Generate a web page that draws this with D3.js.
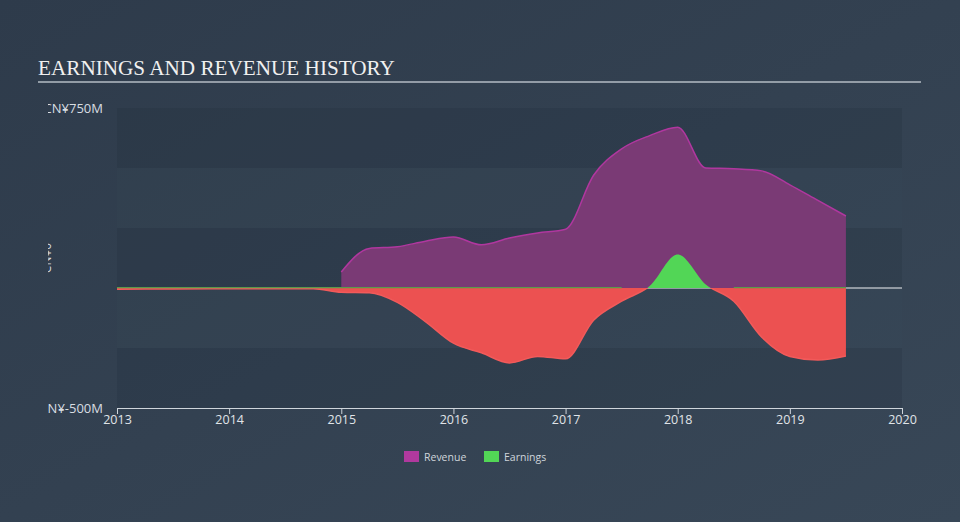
<!DOCTYPE html>
<html>
<head>
<meta charset="utf-8">
<script src="https://cdn.jsdelivr.net/npm/d3@7"></script>
<style>
  html, body { margin: 0; padding: 0; background: #323f4f; }
  svg { display: block; }
</style>
</head>
<body>
<svg id="chart"></svg>
<script>
// values (CN¥ millions)
const revenueDates = [2015.0, 2015.25, 2015.5, 2015.75, 2016.0, 2016.25, 2016.5, 2016.75, 2017.0,
  2017.25, 2017.5, 2017.75, 2018.0, 2018.25, 2018.5, 2018.75, 2019.0, 2019.25, 2019.5];
const revenueValues = [67, 165, 172, 195, 212, 180, 208, 229, 245,
  470, 580, 635, 670, 500, 497, 488, 430, 365, 300];

const earningsDates = [2013.0, 2013.5, 2014.0, 2014.5, 2014.75, 2015.0, 2015.25, 2015.5, 2015.75,
  2016.0, 2016.25, 2016.5, 2016.75, 2017.0, 2017.25, 2017.5, 2017.75, 2018.0, 2018.25,
  2018.5, 2018.75, 2019.0, 2019.25, 2019.5];
const earningsValues = [-5, -4, -3, -3, -3, -18, -20, -60, -140,
  -230, -270, -312, -285, -295, -134, -55, 8, 140, 15,
  -55, -205, -285, -300, -283];

const xTicks = [2013, 2014, 2015, 2016, 2017, 2018, 2019, 2020];
const yTicks = [750, 500, 250, 0, -250, -500];
const yLabels = {750: "CN¥750M", "-500": "CN¥-500M"};

const width = 960, height = 522;
const margin = {top: 108, right: 58, bottom: 114, left: 117};

const svg = d3.select("#chart").attr("width", width).attr("height", height);
const defs = svg.append("defs");

const bg = defs.append("linearGradient").attr("id", "bg")
  .attr("x1", "0").attr("y1", "0").attr("x2", "1").attr("y2", "1");
bg.append("stop").attr("offset", "0%").attr("stop-color", "#2e3b4b");
bg.append("stop").attr("offset", "100%").attr("stop-color", "#384757");
svg.append("rect").attr("width", width).attr("height", height).attr("fill", "url(#bg)");

const x = d3.scaleLinear().domain([2013, 2020]).range([margin.left, width - margin.right]);
const y = d3.scaleLinear().domain([-500, 750]).range([height - margin.bottom, margin.top]);

// title
svg.append("text")
  .attr("x", 38).attr("y", 75)
  .attr("font-family", "'Liberation Serif', 'DejaVu Serif', serif")
  .attr("font-size", 21.2)
  .attr("fill", "#f0f0f0")
  .text("EARNINGS AND REVENUE HISTORY");
svg.append("line")
  .attr("x1", 38).attr("x2", 921).attr("y1", 82).attr("y2", 82)
  .attr("stroke", "#b5bcc4").attr("stroke-width", 1.5);

// alternating bands
const bandPairs = d3.pairs(yTicks);
svg.append("g").selectAll("rect")
  .data(bandPairs)
  .join("rect")
  .attr("x", x(2013))
  .attr("width", x(2020) - x(2013))
  .attr("y", d => y(d[0]))
  .attr("height", d => y(d[1]) - y(d[0]))
  .attr("fill", (d, i) => i % 2 === 0 ? "rgba(25,35,48,0.16)" : "rgba(70,85,100,0.08)");

// y labels, clipped at the left like the reference
defs.append("clipPath").attr("id", "ylab")
  .append("rect").attr("x", 48).attr("y", 0).attr("width", 80).attr("height", height);
const ylab = svg.append("g").attr("clip-path", "url(#ylab)");
ylab.selectAll("text.ytick")
  .data(yTicks.filter(v => yLabels[v]))
  .join("text")
  .attr("class", "ytick")
  .attr("x", 103)
  .attr("y", d => y(d) + 4.5)
  .attr("text-anchor", "end")
  .attr("font-family", "'Open Sans', 'DejaVu Sans', sans-serif")
  .attr("font-size", 13)
  .attr("fill", "#d8dde2")
  .text(d => yLabels[d]);
ylab.append("text")
  .attr("transform", `translate(51, ${y(125)}) rotate(-90)`)
  .attr("text-anchor", "middle")
  .attr("font-family", "'Open Sans', 'DejaVu Sans', sans-serif")
  .attr("font-size", 12)
  .attr("fill", "#d8dde2")
  .text("CN¥0");

// zero line
svg.append("line")
  .attr("x1", x(2013)).attr("x2", x(2020))
  .attr("y1", y(0)).attr("y2", y(0))
  .attr("stroke", "#f0f2f4").attr("stroke-width", 1.2);

const curve = d3.curveMonotoneX;
const revenue = revenueDates.map((d, i) => ({t: d, v: revenueValues[i]}));
const earnings = earningsDates.map((d, i) => ({t: d, v: earningsValues[i]}));

// revenue area
svg.append("path")
  .datum(revenue)
  .attr("fill", "#7a3a75")
  .attr("d", d3.area().x(d => x(d.t)).y0(y(0)).y1(d => y(d.v)).curve(curve));
svg.append("path")
  .datum(revenue)
  .attr("fill", "none")
  .attr("stroke", "#b0379f")
  .attr("stroke-width", 1.5)
  .attr("d", d3.line().x(d => x(d.t)).y(d => y(d.v)).curve(curve));

// earnings: red below zero, green above
defs.append("clipPath").attr("id", "below")
  .append("rect").attr("x", 0).attr("y", y(0)).attr("width", width).attr("height", height);
defs.append("clipPath").attr("id", "above")
  .append("rect").attr("x", 0).attr("y", 0).attr("width", width).attr("height", y(0));

const earnArea = d3.area().x(d => x(d.t)).y0(y(0)).y1(d => y(d.v)).curve(curve);
const earnLine = d3.line().x(d => x(d.t)).y(d => y(d.v)).curve(curve);

svg.append("path").datum(earnings)
  .attr("clip-path", "url(#below)")
  .attr("fill", "#ec5151")
  .attr("d", earnArea);
svg.append("path").datum(earnings)
  .attr("clip-path", "url(#below)")
  .attr("fill", "none").attr("stroke", "#f25a5a").attr("stroke-width", 1.5)
  .attr("d", earnLine);
svg.append("path").datum(earnings)
  .attr("clip-path", "url(#above)")
  .attr("fill", "#52d656")
  .attr("d", earnArea);

// thin green edge along zero where earnings are negative
svg.append("path").datum(earnings)
  .attr("fill", "none").attr("stroke", "#5a9a4a").attr("stroke-width", 1.2)
  .attr("d", d3.line().defined(d => d.v <= 0).x(d => x(d.t)).y(y(0) - 0.4));

// x axis
const xAxis = svg.append("g")
  .attr("transform", `translate(0,${y(-500)})`)
  .call(d3.axisBottom(x).tickValues(xTicks).tickFormat(d3.format("d")).tickSizeOuter(0).tickSize(6));
xAxis.select(".domain").attr("stroke", "#cfd5db");
xAxis.selectAll(".tick line").attr("stroke", "#cfd5db");
xAxis.selectAll(".tick text")
  .attr("font-family", "'Open Sans', 'DejaVu Sans', sans-serif")
  .attr("font-size", 12.5)
  .attr("fill", "#e0e4e8")
  .attr("dy", "0.55em");

// legend
const legendItems = [
  {name: "Revenue", color: "#b0399e", x: 404},
  {name: "Earnings", color: "#52d656", x: 484}
];
const legend = svg.append("g").attr("transform", "translate(0,451)");
legend.selectAll("rect")
  .data(legendItems)
  .join("rect")
  .attr("x", d => d.x).attr("y", 0)
  .attr("width", 15).attr("height", 11)
  .attr("fill", d => d.color);
legend.selectAll("text")
  .data(legendItems)
  .join("text")
  .attr("x", d => d.x + 20).attr("y", 9.5)
  .attr("font-family", "'Open Sans', 'DejaVu Sans', sans-serif")
  .attr("font-size", 10.5)
  .attr("fill", "#cfd5db")
  .text(d => d.name);
</script>
</body>
</html>
